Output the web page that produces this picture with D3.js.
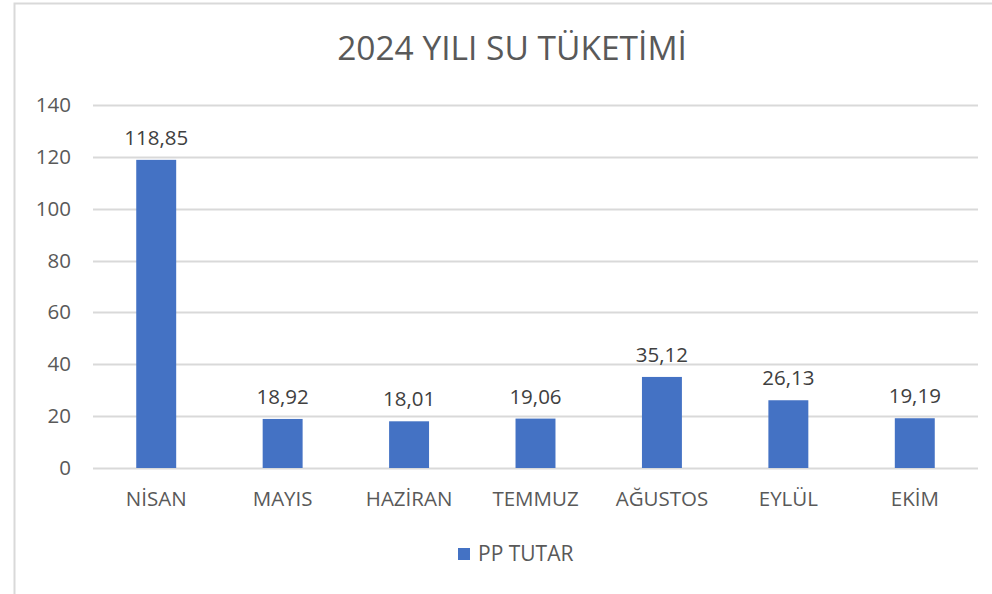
<!DOCTYPE html>
<html>
<head>
<meta charset="utf-8">
<script src="https://cdn.jsdelivr.net/npm/d3@7"></script>
<style>
  body { margin: 0; background: #fff; }
  svg text { font-family: "Open Sans", "Noto Sans", sans-serif; }
</style>
</head>
<body>
<div id="chart"></div>
<script>
(function () {

    var CATEGORIES = ["NİSAN", "MAYIS", "HAZİRAN", "TEMMUZ", "AĞUSTOS", "EYLÜL", "EKİM"];
    var VALUES     = [118.85, 18.92, 18.01, 19.06, 35.12, 26.13, 19.19];
    var Y_TICKS    = [0, 20, 40, 60, 80, 100, 120, 140];
    var TITLE      = "2024 YILI SU TÜKETİMİ";
    var SERIES     = "PP TUTAR";

    var W = 992, H = 594;
    var BAR = "#4472C4";
    var GRID = "#d9d9d9";
    var TXT = "#595959";
    var FS = "20.5px";   // label font size

    var svg = d3.select("#chart").append("svg")
        .attr("width", W).attr("height", H);

    /* outer chart border */
    svg.append("rect")
        .attr("x", 14.5).attr("y", 3.5)
        .attr("width", W + 10).attr("height", H + 10)
        .attr("fill", "#fff")
        .attr("stroke", "#d9d9d9").attr("stroke-width", 2);

    var plot = { left: 93, right: 978, top: 105, bottom: 468 };

    var x = d3.scaleBand()
        .domain(CATEGORIES)
        .range([plot.left, plot.right])
        .paddingInner(0.684)
        .paddingOuter(0.342);

    var y = d3.scaleLinear()
        .domain([0, 140])
        .range([plot.bottom, plot.top]);

    /* gridlines */
    svg.append("g").selectAll("line")
        .data(Y_TICKS)
        .enter().append("line")
        .attr("x1", plot.left).attr("x2", plot.right)
        .attr("y1", function (d) { return Math.round(y(d)) + 0.5; })
        .attr("y2", function (d) { return Math.round(y(d)) + 0.5; })
        .attr("stroke", GRID)
        .attr("stroke-width", 2);

    /* y axis labels */
    var yAxis = d3.axisLeft(y).tickValues(Y_TICKS).tickSize(0).tickPadding(22);
    var ya = svg.append("g")
        .attr("transform", "translate(" + plot.left + ",0)")
        .call(yAxis);
    ya.select(".domain").remove();
    ya.selectAll("text")
        .attr("fill", TXT)
        .style("font-size", FS);

    /* x axis labels */
    var xAxis = d3.axisBottom(x).tickSize(0).tickPadding(23);
    var xa = svg.append("g")
        .attr("transform", "translate(0," + plot.bottom + ")")
        .call(xAxis);
    xa.select(".domain").remove();
    xa.selectAll("text")
        .attr("fill", TXT)
        .style("font-size", FS);

    /* bars */
    svg.append("g").selectAll("rect")
        .data(VALUES)
        .enter().append("rect")
        .attr("x", function (d, i) { return x(CATEGORIES[i]); })
        .attr("width", x.bandwidth())
        .attr("y", function (d) { return y(d); })
        .attr("height", function (d) { return y(0) - y(d); })
        .attr("fill", BAR);

    /* value labels */
    svg.append("g").selectAll("text")
        .data(VALUES)
        .enter().append("text")
        .attr("x", function (d, i) { return x(CATEGORIES[i]) + x.bandwidth() / 2; })
        .attr("y", function (d) { return y(d) - 15; })
        .attr("text-anchor", "middle")
        .attr("fill", "#404040")
        .style("font-size", FS)
        .text(function (d) { return d.toFixed(2).replace(".", ","); });

    /* title */
    svg.append("text")
        .attr("x", 512).attr("y", 60)
        .attr("text-anchor", "middle")
        .attr("fill", TXT)
        .style("font-size", "33.5px")
        .text(TITLE);

    /* legend */
    var lg = svg.append("g").attr("transform", "translate(458,548)");
    lg.append("rect")
        .attr("width", 12).attr("height", 12)
        .attr("fill", BAR);
    lg.append("text")
        .attr("x", 20).attr("y", 13)
        .attr("fill", TXT)
        .style("font-size", "21px")
        .text(SERIES);

}());
</script>
</body>
</html>
